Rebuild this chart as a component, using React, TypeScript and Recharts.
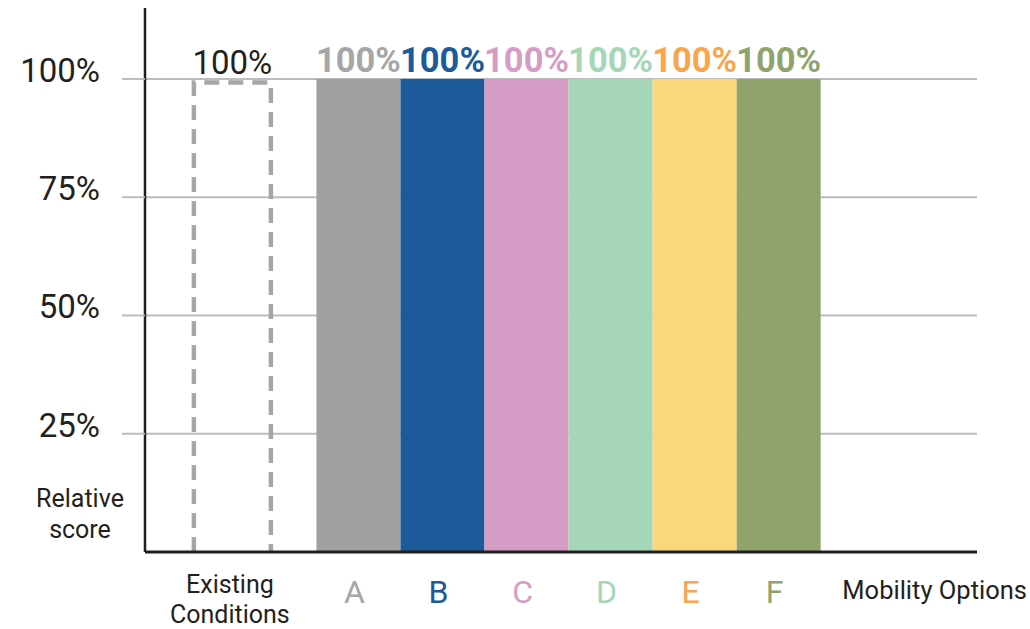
import { BarChart, Bar, XAxis, YAxis, CartesianGrid, LabelList, Label } from "recharts";

const CATEGORIES = ["Existing Conditions", "A", "B", "C", "D", "E", "F"];
const SCORES = [100, 100, 100, 100, 100, 100, 100];
const Y_TICKS = [25, 50, 75, 100];

const BAR_COLORS = ["#a6a6a6", "#a0a0a0", "#1c5a99", "#d59cc5", "#a6d6b8", "#f8d87a", "#91a36c"];
const TEXT_COLORS = ["#231f20", "#a6a6a6", "#1c5a99", "#d59cc5", "#a6d6b8", "#f9a54b", "#91a36c"];

const FONT = "Roboto, 'Noto Sans', sans-serif";
const INK = "#231f20";
const GRID = "#bcbcbe";

// existing conditions stands alone, the options follow after a half-slot gap
const rows = CATEGORIES.map((name, i) => ({
  name,
  score: SCORES[i],
  pos: i === 0 ? 1 : i + 1.5,
  i,
}));

const BarShape = (props: any) => {
  const { x, y, width, height, index } = props;
  if (index === 0) {
    const l = x + 3.5;
    const r = x + width - 3.5;
    const t = y + 3.5;
    const b = y + height;
    return (
      <path
        d={`M${l},${b} L${l},${t} L${r},${t} L${r},${b}`}
        fill="none"
        stroke={BAR_COLORS[0]}
        strokeWidth={4.5}
        strokeDasharray="15 9"
      />
    );
  }
  return <rect x={x} y={y} width={width} height={height} fill={BAR_COLORS[index]} />;
};

const TopLabel = (props: any) => {
  const { x, y, width, value, index } = props;
  const existing = index === 0;
  return (
    <text
      x={x + width / 2}
      y={y - (existing ? 5 : 7)}
      textAnchor="middle"
      fill={TEXT_COLORS[index]}
      fontSize={existing ? 33 : 34.5}
      fontWeight={existing ? 400 : 700}
      fontFamily={FONT}
    >
      {`${value}%`}
    </text>
  );
};

const XTick = (props: any) => {
  const { x, y, payload } = props;
  const row = rows.find((r) => r.pos === payload.value);
  if (!row) return null;
  if (row.i === 0) {
    const [first, second] = row.name.split(" ");
    return (
      <text textAnchor="middle" fill={INK} fontSize={25} fontFamily={FONT}>
        <tspan x={x - 2.5} y={y + 41}>{first}</tspan>
        <tspan x={x - 2.5} y={y + 71}>{second}</tspan>
      </text>
    );
  }
  return (
    <text x={x - 4} y={y + 51} textAnchor="middle" fill={TEXT_COLORS[row.i]} fontSize={32} fontFamily={FONT}>
      {row.name}
    </text>
  );
};

const YTick = (props: any) => {
  const { x, y, payload } = props;
  return (
    <text x={x} y={y + 3} textAnchor="end" fill={INK} fontSize={33} fontFamily={FONT}>
      {`${payload.value}%`}
    </text>
  );
};

const YTitle = (props: any) => {
  const { viewBox } = props;
  const cx = viewBox.x + 80;
  const bottom = viewBox.y + viewBox.height;
  return (
    <text textAnchor="middle" fill={INK} fontSize={25} fontFamily={FONT}>
      <tspan x={cx} y={bottom - 45}>Relative</tspan>
      <tspan x={cx} y={bottom - 14}>score</tspan>
    </text>
  );
};

const XTitle = (props: any) => {
  const { viewBox } = props;
  return (
    <text
      x={viewBox.x + viewBox.width + 50}
      y={viewBox.y + 47}
      textAnchor="end"
      fill={INK}
      fontSize={25.5}
      fontFamily={FONT}
    >
      Mobility Options
    </text>
  );
};

export default function App() {
  return (
    <div style={{ position: "absolute", left: 0, top: 0, background: "#fff" }}>
      <BarChart width={1030} height={629} data={rows} margin={{ top: 8, right: 53, bottom: 0, left: 0 }}>
        <CartesianGrid vertical={false} horizontalValues={Y_TICKS} stroke={GRID} strokeWidth={2} />
        <XAxis
          dataKey="pos"
          type="number"
          domain={[-0.04, 9.86]}
          ticks={rows.map((r) => r.pos)}
          interval={0}
          height={77}
          tickLine={false}
          tickSize={0}
          tickMargin={0}
          tick={<XTick />}
          axisLine={{ stroke: INK, strokeWidth: 3 }}
          allowDataOverflow
        >
          <Label content={<XTitle />} />
        </XAxis>
        <YAxis
          type="number"
          domain={[0, 115]}
          ticks={Y_TICKS}
          width={145}
          tickSize={23}
          tickMargin={22}
          tickLine={{ stroke: GRID, strokeWidth: 2 }}
          axisLine={{ stroke: INK, strokeWidth: 2.5 }}
          tick={<YTick />}
          allowDataOverflow
        >
          <Label content={<YTitle />} />
        </YAxis>
        <Bar dataKey="score" barSize={84} shape={<BarShape />} isAnimationActive={false}>
          <LabelList dataKey="score" content={<TopLabel />} />
        </Bar>
      </BarChart>
    </div>
  );
}
